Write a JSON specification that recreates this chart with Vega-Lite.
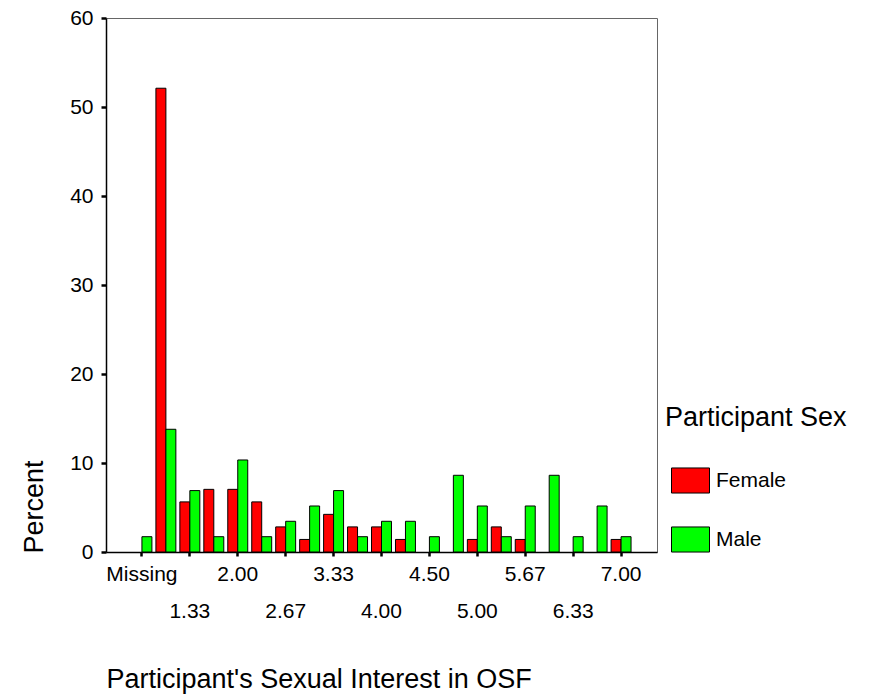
{
  "$schema": "https://vega.github.io/schema/vega-lite/v6.json",
  "width": 551,
  "height": 534,
  "autosize": "none",
  "padding": {"left": 106, "top": 18, "right": 220, "bottom": 144},
  "background": "white",
  "config": {
    "font": "Liberation Sans",
    "view": {"stroke": "#666666", "strokeWidth": 1},
    "axis": {
      "labelFont": "Liberation Sans",
      "titleFont": "Liberation Sans",
      "labelColor": "black",
      "titleColor": "black",
      "domainColor": "black",
      "tickColor": "black",
      "titleFontWeight": "normal",
      "labelFontSize": 21,
      "titleFontSize": 27,
      "grid": false
    }
  },
  "data": {
    "values": [
      {"category": "Missing", "sex": "Male", "percent": 1.72},
      {"category": "1.00", "sex": "Female", "percent": 52.11},
      {"category": "1.00", "sex": "Male", "percent": 13.79},
      {"category": "1.33", "sex": "Female", "percent": 5.63},
      {"category": "1.33", "sex": "Male", "percent": 6.90},
      {"category": "1.67", "sex": "Female", "percent": 7.04},
      {"category": "1.67", "sex": "Male", "percent": 1.72},
      {"category": "2.00", "sex": "Female", "percent": 7.04},
      {"category": "2.00", "sex": "Male", "percent": 10.34},
      {"category": "2.33", "sex": "Female", "percent": 5.63},
      {"category": "2.33", "sex": "Male", "percent": 1.72},
      {"category": "2.67", "sex": "Female", "percent": 2.82},
      {"category": "2.67", "sex": "Male", "percent": 3.45},
      {"category": "3.00", "sex": "Female", "percent": 1.41},
      {"category": "3.00", "sex": "Male", "percent": 5.17},
      {"category": "3.33", "sex": "Female", "percent": 4.23},
      {"category": "3.33", "sex": "Male", "percent": 6.90},
      {"category": "3.67", "sex": "Female", "percent": 2.82},
      {"category": "3.67", "sex": "Male", "percent": 1.72},
      {"category": "4.00", "sex": "Female", "percent": 2.82},
      {"category": "4.00", "sex": "Male", "percent": 3.45},
      {"category": "4.33", "sex": "Female", "percent": 1.41},
      {"category": "4.33", "sex": "Male", "percent": 3.45},
      {"category": "4.50", "sex": "Male", "percent": 1.72},
      {"category": "4.67", "sex": "Male", "percent": 8.62},
      {"category": "5.00", "sex": "Female", "percent": 1.41},
      {"category": "5.00", "sex": "Male", "percent": 5.17},
      {"category": "5.33", "sex": "Female", "percent": 2.82},
      {"category": "5.33", "sex": "Male", "percent": 1.72},
      {"category": "5.67", "sex": "Female", "percent": 1.41},
      {"category": "5.67", "sex": "Male", "percent": 5.17},
      {"category": "6.00", "sex": "Male", "percent": 8.62},
      {"category": "6.33", "sex": "Male", "percent": 1.72},
      {"category": "6.67", "sex": "Male", "percent": 5.17},
      {"category": "7.00", "sex": "Female", "percent": 1.41},
      {"category": "7.00", "sex": "Male", "percent": 1.72}
    ]
  },
  "mark": {"type": "bar", "stroke": "black", "strokeWidth": 1},
  "encoding": {
    "x": {
      "field": "category",
      "type": "nominal",
      "sort": ["Missing","1.00","1.33","1.67","2.00","2.33","2.67","3.00","3.33","3.67","4.00","4.33","4.50","4.67","5.00","5.33","5.67","6.00","6.33","6.67","7.00"],
      "scale": {"paddingInner": 0, "paddingOuter": 1},
      "axis": {
        "title": "Participant's Sexual Interest in OSF",
        "values": ["Missing","1.33","2.00","2.67","3.33","4.00","4.50","5.00","5.67","6.33","7.00"],
        "labelAngle": 0,
        "labelExpr": "(datum.value == '1.33' || datum.value == '2.67' || datum.value == '4.00' || datum.value == '5.00' || datum.value == '6.33') ? ['', datum.value] : datum.value",
        "labelLineHeight": 37,
        "labelBaseline": "top",
        "labelPadding": 7,
        "tickSize": 4,
        "tickWidth": 2.5,
        "domainWidth": 1.5,
        "labelOverlap": false,
        "labelBound": false,
        "titleAnchor": "start",
        "titleAlign": "left",
        "titleBaseline": "alphabetic",
        "titleX": 0,
        "titleY": 135
      }
    },
    "xOffset": {
      "field": "sex",
      "type": "nominal",
      "sort": ["Female","Male"],
      "scale": {"paddingInner": 0, "paddingOuter": 0.2}
    },
    "y": {
      "field": "percent",
      "type": "quantitative",
      "scale": {"domain": [0, 60], "nice": false},
      "axis": {
        "title": "Percent",
        "values": [0, 10, 20, 30, 40, 50, 60],
        "tickSize": 5,
        "tickWidth": 2.5,
        "domainWidth": 1.5,
        "labelPadding": 8,
        "titleAngle": 270,
        "titleAlign": "left",
        "titleBaseline": "alphabetic",
        "titleAnchor": "start",
        "titleX": -64,
        "titleY": 535
      }
    },
    "color": {
      "field": "sex",
      "type": "nominal",
      "scale": {"domain": ["Female","Male"], "range": ["#ff0000","#00ff00"]},
      "legend": {
        "title": "Participant Sex",
        "orient": "none",
        "legendX": 559,
        "legendY": 387,
        "padding": 0,
        "titleFont": "Liberation Sans",
        "titleFontSize": 27,
        "titleFontWeight": "normal",
        "titleColor": "black",
        "titleLimit": 300,
        "titlePadding": 29,
        "labelFont": "Liberation Sans",
        "labelFontSize": 21,
        "labelColor": "black",
        "symbolType": "M-1,-0.66L1,-0.66L1,0.66L-1,0.66Z",
        "symbolSize": 1444,
        "symbolStrokeColor": "black",
        "symbolStrokeWidth": 1,
        "symbolOpacity": 1,
        "symbolOffset": 6,
        "labelOffset": 6,
        "rowPadding": 24
      }
    }
  }
}
